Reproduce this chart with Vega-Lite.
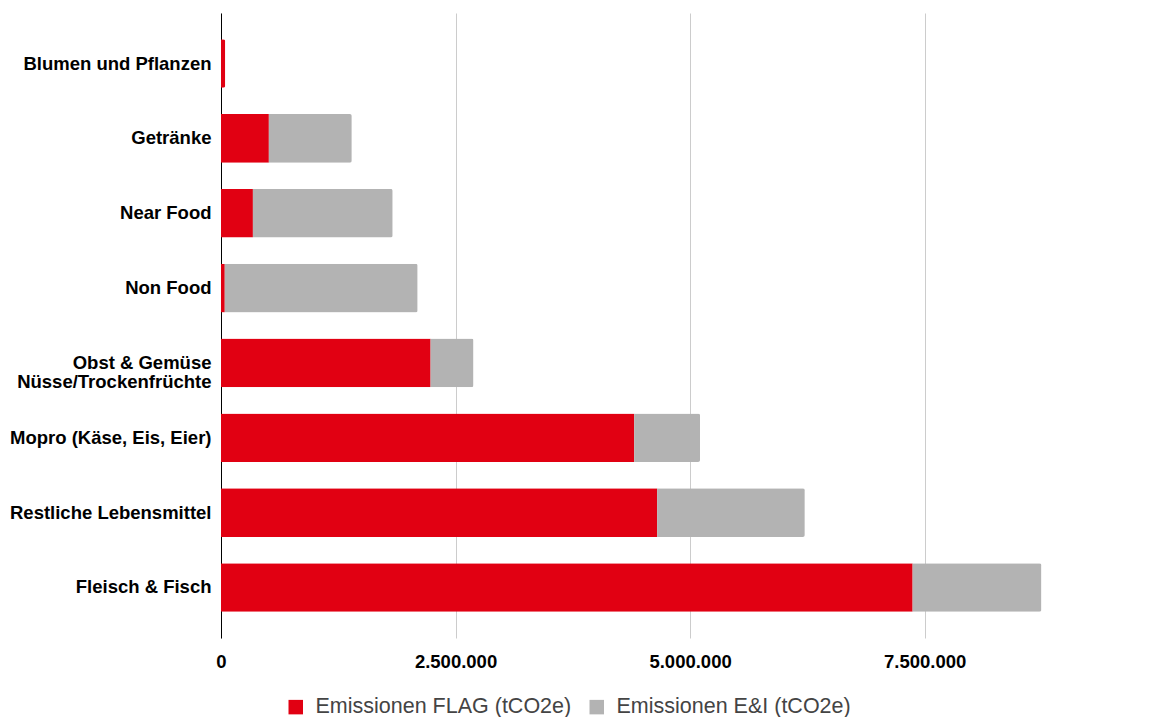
{
  "$schema": "https://vega.github.io/schema/vega-lite/v6.json",
  "autosize": "none",
  "padding": {"left": 221, "top": 13, "right": 22, "bottom": 79},
  "width": 910,
  "height": 625,
  "background": "white",
  "config": {"view": {"stroke": null}, "font": "Liberation Sans"},
  "data": {
    "values": [
      {"k": "Blumen und Pflanzen", "s": "Emissionen FLAG (tCO2e)", "o": 1, "v": 45000},
      {"k": "Blumen und Pflanzen", "s": "Emissionen E&I (tCO2e)", "o": 2, "v": 0},
      {"k": "Getränke", "s": "Emissionen FLAG (tCO2e)", "o": 1, "v": 510000},
      {"k": "Getränke", "s": "Emissionen E&I (tCO2e)", "o": 2, "v": 884000},
      {"k": "Near Food", "s": "Emissionen FLAG (tCO2e)", "o": 1, "v": 340000},
      {"k": "Near Food", "s": "Emissionen E&I (tCO2e)", "o": 2, "v": 1490000},
      {"k": "Non Food", "s": "Emissionen FLAG (tCO2e)", "o": 1, "v": 40000},
      {"k": "Non Food", "s": "Emissionen E&I (tCO2e)", "o": 2, "v": 2056000},
      {"k": "Obst & Gemüse|Nüsse/Trockenfrüchte", "s": "Emissionen FLAG (tCO2e)", "o": 1, "v": 2234000},
      {"k": "Obst & Gemüse|Nüsse/Trockenfrüchte", "s": "Emissionen E&I (tCO2e)", "o": 2, "v": 457000},
      {"k": "Mopro (Käse, Eis, Eier)", "s": "Emissionen FLAG (tCO2e)", "o": 1, "v": 4404000},
      {"k": "Mopro (Käse, Eis, Eier)", "s": "Emissionen E&I (tCO2e)", "o": 2, "v": 702000},
      {"k": "Restliche Lebensmittel", "s": "Emissionen FLAG (tCO2e)", "o": 1, "v": 4649000},
      {"k": "Restliche Lebensmittel", "s": "Emissionen E&I (tCO2e)", "o": 2, "v": 1574000},
      {"k": "Fleisch & Fisch", "s": "Emissionen FLAG (tCO2e)", "o": 1, "v": 7372000},
      {"k": "Fleisch & Fisch", "s": "Emissionen E&I (tCO2e)", "o": 2, "v": 1373000}
    ]
  },
  "mark": {"type": "bar", "cornerRadiusEnd": 2},
  "encoding": {
    "y": {
      "field": "k",
      "type": "nominal",
      "sort": null,
      "scale": {"paddingInner": 0.35, "paddingOuter": 0.35},
      "axis": {
        "title": null,
        "labelExpr": "split(datum.label, '|')",
        "labelFont": "Liberation Sans",
        "labelFontSize": 18.5,
        "labelFontWeight": "bold",
        "labelColor": "#000000",
        "labelPadding": 10,
        "labelLineHeight": 19,
        "labelLimit": 300,
        "ticks": false,
        "domainColor": "#000000",
        "domainWidth": 1
      }
    },
    "x": {
      "field": "v",
      "type": "quantitative",
      "stack": "zero",
      "scale": {"domain": [0, 9700000], "nice": false},
      "axis": {
        "title": null,
        "values": [0, 2500000, 5000000, 7500000],
        "labelExpr": "replace(format(datum.value, ',d'), /,/g, '.')",
        "labelFont": "Liberation Sans",
        "labelFontSize": 18.5,
        "labelFontWeight": "bold",
        "labelColor": "#000000",
        "labelPadding": 14,
        "ticks": false,
        "domain": false,
        "grid": true,
        "gridColor": "#cccccc",
        "labelFlush": false
      }
    },
    "color": {
      "field": "s",
      "type": "nominal",
      "sort": ["Emissionen FLAG (tCO2e)", "Emissionen E&I (tCO2e)"],
      "scale": {"domain": ["Emissionen FLAG (tCO2e)", "Emissionen E&I (tCO2e)"], "range": ["#e10012", "#b3b3b3"]},
      "legend": {
        "title": null,
        "orient": "none",
        "direction": "horizontal",
        "legendX": 64,
        "legendY": 683,
        "symbolType": "square",
        "symbolSize": 210,
        "symbolStrokeWidth": 0,
        "labelFont": "Liberation Sans",
        "labelFontSize": 21.5,
        "labelColor": "#444444",
        "labelOffset": 9,
        "columnPadding": 14,
        "labelLimit": 400
      }
    },
    "order": {"field": "o", "type": "quantitative"}
  }
}
